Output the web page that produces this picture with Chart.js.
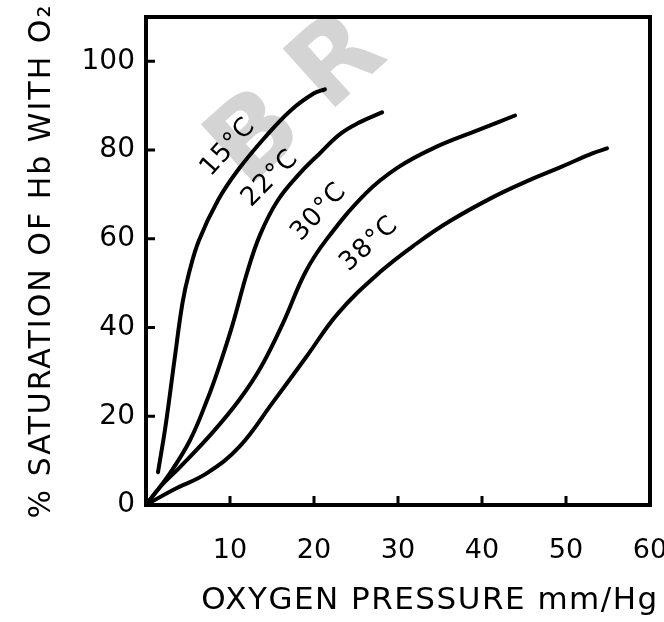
<!DOCTYPE html>
<html>
<head>
<meta charset="utf-8">
<script src="https://cdn.jsdelivr.net/npm/chart.js@4"></script>
<style>
  html, body { margin: 0; padding: 0; background: #fff; }
  #wrap { width: 664px; height: 622px; }
</style>
</head>
<body>
<div id="wrap"><canvas id="c"></canvas></div>
<script>
// oxygen pressure (mm Hg) and % saturation
const x15 = [1.43, 2.38, 3.39, 4.35, 5.12, 6.31, 8.57, 10.95, 14.17, 17.26, 20.0, 21.3]
const y15 = [7.4, 18.5, 32.7, 45.6, 52.3, 59.7, 68.7, 75.5, 82.9, 89.0, 92.8, 93.7]

const x22 = [0, 2.86, 5.24, 7.26, 8.69, 10.36, 12.02, 13.6, 15.7, 18.33, 20.71, 23.1, 25.48, 28.1]
const y22 = [0, 7.2, 14.6, 23.6, 31.1, 41.0, 52.3, 61.0, 68.7, 74.8, 79.3, 83.6, 86.3, 88.5]

const x30 = [0, 1.67, 4.05, 7.86, 11.07, 13.69, 16.31, 18.93, 21.43, 26.19, 30.0, 34.17, 39.52, 43.93]
const y30 = [0, 4.05, 8.56, 16.2, 23.6, 31.1, 41.0, 52.3, 59.7, 70.3, 76.1, 80.4, 84.5, 87.8]

const x38 = [0, 3.21, 7.26, 11.1, 15.12, 19.05, 22.86, 27.86, 32.26, 36.19, 41.31, 45.36, 49.29, 53.21, 54.88]
const y38 = [0, 3.4, 7.2, 13.1, 23.2, 33.3, 43.2, 52.5, 59.0, 64.0, 69.4, 73.0, 76.1, 79.3, 80.4]

const curveNames = ['15°C', '22°C', '30°C', '38°C']
const xTicks = [10, 20, 30, 40, 50, 60]
const yTicks = [0, 20, 40, 60, 80, 100]
const xTitle = 'OXYGEN PRESSURE mm/Hg'
const yTitle = '% SATURATION OF Hb WITH O₂'

const pts = (xs, ys) => xs.map((v, i) => ({ x: v, y: ys[i] }))
const curves = [pts(x15, y15), pts(x22, y22), pts(x30, y30), pts(x38, y38)]

// where each name sits beside its curve (data units) and its slant
const namePos = [[9.8, 80.6, -48], [14.8, 73.6, -45], [20.6, 66.0, -47], [26.6, 58.8, -42]]

const FONT = '"DejaVu Sans", sans-serif'

const paper = {
  id: 'paper',
  beforeDatasetsDraw(chart) {
    // faint stamp behind the plot
    const { ctx, chartArea: a } = chart
    ctx.save()
    ctx.fillStyle = '#d4d4d4'
    ctx.font = 'bold 108px ' + FONT
    ctx.textAlign = 'center'
    ctx.textBaseline = 'middle'
    ;[['B', 112, 124], ['R', 194, 48]].forEach(([t, dx, dy]) => {
      ctx.save()
      ctx.translate(a.left + dx, a.top + dy)
      ctx.rotate(-42 * Math.PI / 180)
      ctx.fillText(t, 0, 0)
      ctx.restore()
    })
    ctx.restore()
  },
  afterDraw(chart) {
    const { ctx, chartArea: a, scales: { x, y } } = chart
    ctx.save()
    ctx.strokeStyle = '#000'
    ctx.lineWidth = 4
    ctx.strokeRect(a.left, a.top, a.right - a.left, a.bottom - a.top)

    // ticks point into the plot
    ctx.lineWidth = 3
    ctx.beginPath()
    yTicks.forEach(v => {
      if (v === 0) return
      const p = y.getPixelForValue(v)
      ctx.moveTo(a.left, p); ctx.lineTo(a.left + 9, p)
    })
    xTicks.forEach(v => {
      if (v === 60) return
      const p = x.getPixelForValue(v)
      ctx.moveTo(p, a.bottom); ctx.lineTo(p, a.bottom - 9)
    })
    ctx.stroke()

    ctx.fillStyle = '#000'
    ctx.textAlign = 'center'
    ctx.textBaseline = 'middle'

    ctx.font = '26px ' + FONT
    ctx.letterSpacing = '1px'
    curveNames.forEach((name, i) => {
      const [vx, vy, ang] = namePos[i]
      ctx.save()
      ctx.translate(x.getPixelForValue(vx), y.getPixelForValue(vy))
      ctx.rotate(ang * Math.PI / 180)
      ctx.fillText(name, 0, 0)
      ctx.restore()
    })

    // axis titles, widely spaced like the original lettering
    ctx.font = '30px ' + FONT
    ctx.letterSpacing = '2px'
    ctx.save()
    ctx.translate(42, (a.top + a.bottom) / 2)
    ctx.rotate(-Math.PI / 2)
    ctx.fillText(yTitle, 0, 0)
    ctx.restore()

    ctx.font = '31px ' + FONT
    ctx.letterSpacing = '1.5px'
    ctx.fillText(xTitle, 430, 601)
    ctx.restore()
  }
}

new Chart(document.getElementById('c'), {
  type: 'line',
  data: {
    datasets: curves.map((d, i) => ({
      label: curveNames[i],
      data: d,
      borderColor: '#000',
      borderWidth: 4,
      borderCapStyle: 'round',
      borderJoinStyle: 'round',
      pointRadius: 0,
      fill: false,
      tension: 0.4
    }))
  },
  options: {
    responsive: true,
    maintainAspectRatio: false,
    animation: false,
    layout: { padding: { top: 17, right: 14, bottom: 0, left: 0 } },
    plugins: { legend: { display: false }, tooltip: { enabled: false } },
    scales: {
      x: {
        type: 'linear',
        min: 0,
        max: 60,
        grid: { display: false, drawTicks: false },
        border: { display: false },
        afterBuildTicks: s => { s.ticks = xTicks.map(v => ({ value: v })) },
        afterFit: s => { s.height = 117; s.paddingLeft = 0; s.paddingRight = 0 },
        ticks: {
          color: '#000',
          font: { family: FONT, size: 27 },
          padding: 30,
          maxRotation: 0,
          autoSkip: false
        }
      },
      y: {
        min: 0,
        max: 110,
        grid: { display: false, drawTicks: false },
        border: { display: false },
        afterBuildTicks: s => { s.ticks = yTicks.map(v => ({ value: v })) },
        afterFit: s => { s.width = 146; s.paddingTop = 0; s.paddingBottom = 0 },
        ticks: {
          color: '#000',
          font: { family: FONT, size: 28 },
          padding: 11,
          autoSkip: false
        }
      }
    }
  },
  plugins: [paper]
})
</script>
</body>
</html>
